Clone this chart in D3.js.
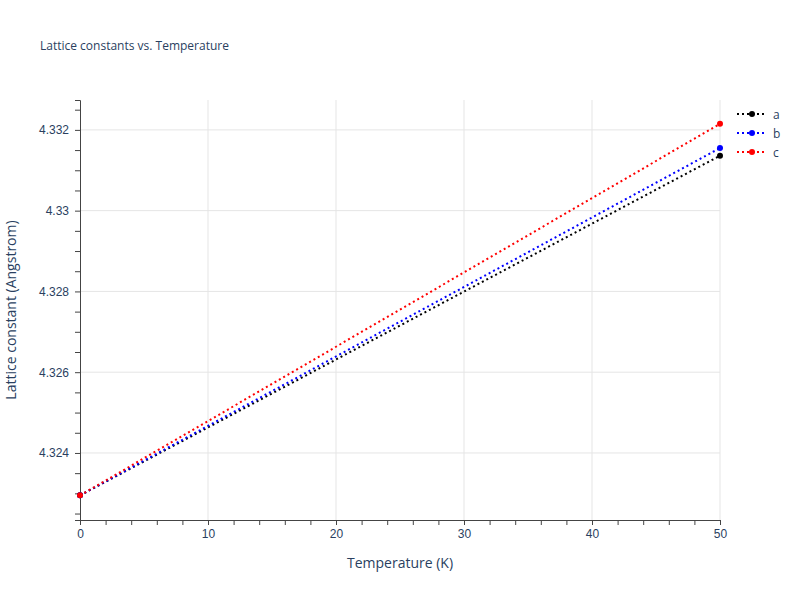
<html>
<head>
<script src="https://cdn.jsdelivr.net/npm/d3@7"></script>
<style>
  body{margin:0;font-family:"Open Sans",sans-serif;}
  .grid line{stroke:#e5e5e5;}
  .tick text{fill:#2a3f5f;font-size:12px;}
</style>
</head>
<body>
<svg id="chart" width="800" height="600"></svg>
<script>
const temps = [0, 50]
const aVals = [4.32295, 4.33136]
const bVals = [4.32295, 4.33155]
const cVals = [4.32295, 4.33215]
const seriesNames = ["a", "b", "c"]
const seriesColors = ["black", "blue", "red"]
const xTicks = [0, 10, 20, 30, 40, 50]
const yTicks = [4.324, 4.326, 4.328, 4.33, 4.332]

const svg = d3.select("#chart")
const plotLeft = 80, plotRight = 720, plotTop = 100, plotBottom = 520

let xScale = d3.scaleLinear().domain([0, 50]).range([plotLeft, plotRight])
let yScale = d3.scaleLinear().domain([4.32234, 4.33274]).range([plotBottom, plotTop])

// grid
svg.append("g").attr("class", "grid").selectAll("line").data(xTicks.slice(1)).join("line")
  .attr("x1", d => xScale(d)).attr("x2", d => xScale(d)).attr("y1", plotTop).attr("y2", plotBottom)
svg.append("g").attr("class", "grid").selectAll("line").data(yTicks).join("line")
  .attr("x1", plotLeft).attr("x2", plotRight).attr("y1", d => yScale(d)).attr("y2", d => yScale(d))

// axes with minor ticks
svg.append("g").attr("transform", `translate(0,${plotBottom})`)
  .call(d3.axisBottom(xScale).tickValues(d3.range(0, 51, 2)).tickSize(5).tickFormat(""))
  .call(g => g.select(".domain").remove())
svg.append("g").attr("transform", `translate(0,${plotBottom})`)
  .call(d3.axisBottom(xScale).tickValues(xTicks).tickSize(5).tickPadding(4))
  .call(g => g.selectAll(".tick line").remove())
svg.append("g").attr("transform", `translate(${plotLeft},0)`)
  .call(d3.axisLeft(yScale).tickValues(d3.range(4.3225, 4.3327, 0.0005)).tickSize(5).tickFormat(""))
  .call(g => g.select(".domain").remove())
svg.append("g").attr("transform", `translate(${plotLeft},0)`)
  .call(d3.axisLeft(yScale).tickValues(yTicks).tickSize(5).tickPadding(6).tickFormat(d => +d.toFixed(3)))
  .call(g => g.selectAll(".tick line").remove())
svg.selectAll(".domain").attr("stroke", "#444")
svg.selectAll(".tick line").attr("stroke", "#444")

// series
const allSeries = [aVals, bVals, cVals]
const valueline = d3.line().x(d => xScale(d[0])).y(d => yScale(d[1]))
allSeries.forEach((vals, i) => {
  const pts = temps.map((t, j) => [t, vals[j]])
  svg.append("path").datum(pts).attr("d", valueline)
    .attr("fill", "none").attr("stroke", seriesColors[i]).attr("stroke-width", 2).attr("stroke-dasharray", "2,3")
  svg.append("g").selectAll("circle").data(pts).join("circle")
    .attr("cx", d => xScale(d[0])).attr("cy", d => yScale(d[1])).attr("r", 3).attr("fill", seriesColors[i])
})

// legend
const legend = svg.append("g").attr("transform", "translate(737,114)")
seriesNames.forEach((name, i) => {
  const g = legend.append("g").attr("transform", `translate(0,${i * 19})`)
  g.append("line").attr("x1", 0).attr("x2", 30).attr("stroke", seriesColors[i])
    .attr("stroke-width", 2).attr("stroke-dasharray", "2,3")
  g.append("circle").attr("cx", 15).attr("r", 3).attr("fill", seriesColors[i])
  g.append("text").attr("x", 36).attr("y", 4.5).attr("fill", "#2a3f5f").attr("font-size", 12).text(name)
})

// titles
svg.append("text").attr("x", 40).attr("y", 50).attr("fill", "#2a3f5f").attr("font-size", 12)
  .text("Lattice constants vs. Temperature")
svg.append("text").attr("x", 400).attr("y", 568).attr("text-anchor", "middle").attr("fill", "#2a3f5f")
  .attr("font-size", 14).text("Temperature (K)")
svg.append("text").attr("transform", "translate(16,310) rotate(-90)").attr("text-anchor", "middle")
  .attr("fill", "#2a3f5f").attr("font-size", 14).text("Lattice constant (Angstrom)")
</script>
</body>
</html>
